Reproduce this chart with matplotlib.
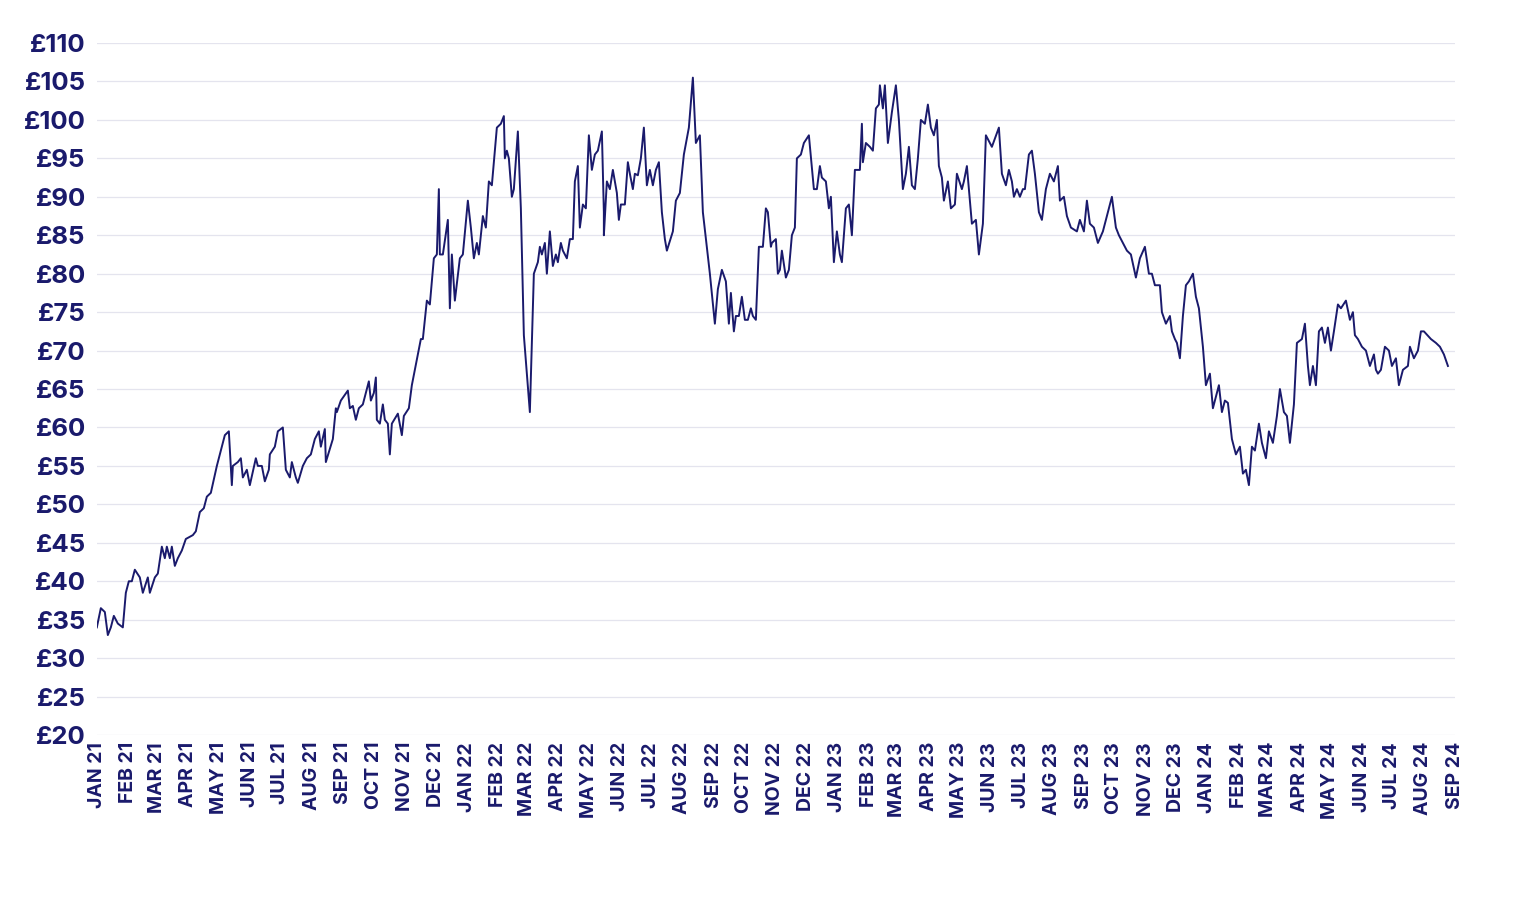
import matplotlib
matplotlib.use("Agg")
import matplotlib.pyplot as plt
import numpy as np
import pandas as pd

navy = "#1a1a6c"
grid = "#e4e4ee"

# sample positions (approx. days from 1 Jan 2021, traced) and prices in £
pos = [0,4,8,11,14,17,21,26,29,32,35,38,43,46,51,53,58,61,65,68,70,73,75,78,81,85,89,96,99,103,107,110,114,120,128,132,135,136,141,144,146,150,153,159,161,165,168,172,173,178,181,186,189,193,195,199,201,206,210,214,218,222,224,228,229,236,239,240,244,251,253,256,259,262,266,270,272,274,277,279,280,283,286,288,291,293,295,301,305,307,312,315,324,326,330,333,337,340,342,343,346,351,353,355,358,363,366,371,374,377,380,382,386,389,392,395,400,404,407,408,410,412,415,417,421,424,427,433,437,441,443,445,448,450,453,456,459,461,464,466,470,473,476,478,481,483,486,489,492,495,498,501,505,507,507,510,513,516,520,522,524,528,531,533,536,538,541,544,547,550,553,556,559,562,565,568,570,576,579,583,587,592,596,599,603,606,613,618,621,625,629,632,634,637,639,642,645,648,651,654,656,659,662,666,669,671,674,675,679,681,683,685,689,692,695,698,700,704,707,712,717,720,723,725,729,732,734,737,740,743,745,749,752,755,758,763,765,766,769,773,776,779,782,783,786,788,791,795,799,802,806,809,812,815,818,821,824,828,831,834,837,840,842,845,847,851,854,858,860,865,867,870,872,875,879,882,886,889,895,902,905,909,912,915,917,920,923,926,928,932,935,938,942,945,949,953,957,961,963,967,970,974,980,983,987,990,993,997,1001,1006,1011,1015,1019,1022,1026,1030,1034,1039,1043,1048,1052,1055,1058,1063,1065,1069,1073,1075,1078,1080,1083,1086,1089,1092,1096,1099,1102,1106,1109,1113,1116,1119,1122,1125,1128,1131,1135,1139,1143,1146,1149,1152,1155,1158,1162,1165,1169,1172,1176,1180,1183,1187,1190,1193,1197,1200,1205,1208,1211,1213,1216,1219,1222,1225,1228,1231,1234,1237,1241,1244,1249,1253,1256,1258,1261,1265,1269,1273,1277,1279,1281,1284,1288,1292,1295,1299,1302,1306,1311,1313,1317,1321,1324,1327,1334,1339,1343,1347,1351,1355,1358]
price = [34,36.5,36,33,34,35.5,34.5,34,38.5,40,40,41.5,40.5,38.5,40.5,38.5,40.5,41,44.5,43,44.5,43,44.5,42,43,44,45.5,46,46.5,49,49.5,51,51.5,55,59,59.5,52.5,55,55.5,56,53.5,54.5,52.5,56,55,55,53,54.5,56.5,57.5,59.5,60,54.5,53.5,55.5,53.5,52.8,55,56,56.5,58.5,59.5,57.5,59.8,55.5,58.5,62.5,62,63.5,64.8,62.5,62.8,61,62.5,63,65,66,63.5,64.5,66.5,61,60.5,63,61,60.5,56.5,60.5,61.8,59,61.5,62.5,65.5,71.5,71.5,76.5,76,82,82.5,91,82.5,82.5,87,75.5,82.5,76.5,82,82.5,89.5,86,82,84,82.5,87.5,86,92,91.5,99,99.5,100.5,95,96,95,90,91,98.5,88.5,72,62,80,81.5,83.5,82.5,84,80,85.5,81,82.5,81.5,84,83,82,84.5,84.5,92,94,86,89,88.5,98,93.5,95.5,96,98.5,88,85,92,91,93.5,90.5,87,89,89,94.5,93,91,93,92.8,95,99,91.5,93.5,91.5,93.5,94.5,88,84.5,83,85.5,89.5,90.5,95.5,99,105.5,97,98,88,80,73.5,78,80.5,79,73.5,77.5,72.5,74.5,74.5,77,74,74,75.5,74.5,74,83.5,83.5,88.5,88,83.5,84,84.5,80,80.5,83,79.5,80.5,85,86,95,95.5,97,98,91,91,94,92.5,92,88.5,90,81.5,85.5,82.5,81.5,88.5,89,85,93.5,93.5,99.5,94.5,97,96.5,96,101.5,102,104.5,101.5,104.5,97,101,104.5,100,91,93,96.5,91.5,91,95,100,99.5,102,99,98,100,94,92.5,89.5,92,88.5,89,93,91,92,94,91,86.5,87,82.5,86.5,98,96.5,99,93,91.5,93.5,92,90,91,90,91,91,95.5,96,93,88,87,91,93,92,94,89.5,90,87.5,86,85.5,87,85.5,89.5,86.5,86,84,85.5,88,90,86,85,84,83,82.5,79.5,82,83.5,80,80,78.5,78.5,75,73.5,74.5,72.5,71.5,71,69,74.5,78.5,79,80,77,75.5,70.5,65.5,67,62.5,64,65.5,62,63.5,63.2,58.5,56.5,57.5,54,54.5,52.5,57.5,57,60.5,58,56,59.5,58,61.5,65,62,61.5,58,63,71,71.5,73.5,68,65.5,68,65.5,72.5,73,71,73,70,72.5,76,75.5,76.5,74,75,72,71.5,70.5,70,68,69.5,67.5,67,67.5,70.5,70,68,69,65.5,67.5,68,70.5,69,70,72.5,72.5,71.5,71,70.5,69.5,68]

n = min(len(pos), len(price))
start = pd.Timestamp("2021-01-01")
end = pd.Timestamp("2024-09-01")
span = (end - start).days
dates = [start + pd.Timedelta(days=p * span / 1358) for p in pos[:n]]

months = pd.date_range(start, end, freq="MS")
month_labels = [d.strftime("%b %y").upper() for d in months]
yticks = list(range(20, 111, 5))

fig = plt.figure(figsize=(15.37, 9.06), dpi=100)
ax = fig.add_axes([0.063, 0.1887, 0.8836, 0.7638])
ax.plot(dates, price[:n], color=navy, lw=1.4)

ax.set_ylim(20, 110)
ax.set_xlim(start, end)
ax.set_yticks(yticks)
ax.set_yticklabels([f"£{v}" for v in yticks], fontsize=18.5, fontweight="bold",
                   color=navy, fontfamily="Inter")
ax.set_xticks(months)
ax.set_xticklabels(month_labels, rotation=90, fontsize=14, fontweight="bold",
                   color=navy, fontfamily="Inter")
ax.grid(axis="y", color=grid, lw=0.9)
ax.set_axisbelow(True)
for s in ax.spines.values():
    s.set_visible(False)
ax.tick_params(axis="y", length=0, pad=8)
ax.tick_params(axis="x", length=0, pad=5)

fig.savefig("out.png", dpi=100)
